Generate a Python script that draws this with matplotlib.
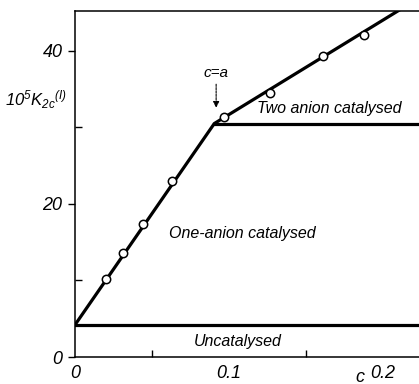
import numpy as np
import matplotlib
matplotlib.use("Agg")
import matplotlib.pyplot as plt
from matplotlib.ticker import FixedLocator

# measured points
c_obs = [0.020, 0.031, 0.044, 0.063, 0.097, 0.127, 0.161, 0.188]
k_obs = [10.2, 13.6, 17.4, 23.0, 31.3, 34.5, 39.3, 42.1]

# fitted lines (vertices)
fit_c = [0.0, 0.0905, 0.2235]
fit_k = [4.2, 30.5, 46.9]
two_c = [0.0905, 0.2235]
two_k = [30.5, 30.5]
unc_c = [0.0, 0.2235]
unc_k = [4.2, 4.2]

fnt = ['Liberation Sans', 'DejaVu Sans']
plt.rcParams['font.family'] = fnt
plt.rcParams['font.style'] = 'italic'
plt.rcParams['mathtext.fontset'] = 'custom'
plt.rcParams['mathtext.it'] = 'Liberation Sans:italic'
plt.rcParams['mathtext.rm'] = 'Liberation Sans:italic'
plt.rcParams['mathtext.default'] = 'it'

fig = plt.figure(figsize=(4.19, 3.84), dpi=100)
ax = fig.add_axes([0.179, 0.0703, 0.821, 0.901])

ax.plot(fit_c, fit_k, color='black', lw=2.3, solid_capstyle='butt', zorder=3)
ax.plot(two_c, two_k, color='black', lw=2.3, zorder=3)
ax.plot(unc_c, unc_k, color='black', lw=2.3, zorder=3)
ax.plot(c_obs, k_obs, 'o', ms=6, mfc='white', mec='black', mew=1.1, zorder=4)

ax.set_xlim(0, 0.2235)
ax.set_ylim(0, 45.2)

ax.spines['right'].set_visible(False)
for s in ['left', 'bottom', 'top']:
    ax.spines[s].set_linewidth(1.1)

ax.xaxis.set_major_locator(FixedLocator([0, 0.1, 0.2]))
ax.xaxis.set_minor_locator(FixedLocator([0.05, 0.15]))
ax.set_xticklabels(['0', '0.1', '0.2'])
ax.yaxis.set_major_locator(FixedLocator([0, 20, 40]))
ax.yaxis.set_minor_locator(FixedLocator([10, 30]))
ax.set_yticklabels(['0', '20', '40'])
ax.tick_params(axis='x', which='both', direction='in', width=1, labelsize=13, pad=6)
ax.tick_params(axis='x', which='major', length=0)
ax.tick_params(axis='x', which='minor', length=5)
ax.tick_params(axis='y', which='major', direction='out', length=5, width=1, labelsize=13, pad=4)
ax.tick_params(axis='y', which='minor', direction='in', length=5, width=1)

ax.text(0.0917, 37.1, 'c=a', ha='center', va='center', fontsize=11)
ax.annotate('', xy=(0.0917, 32.2), xytext=(0.0917, 36.0),
            arrowprops=dict(arrowstyle='-|>', color='black', lw=0.8, ls=(0, (2, 1)),
                            mutation_scale=9))
ax.text(0.118, 32.4, 'Two anion catalysed', ha='left', va='center', fontsize=11.5)
ax.text(0.061, 16.2, 'One-anion catalysed', ha='left', va='center', fontsize=11.5)
ax.text(0.077, 2.0, 'Uncatalysed', ha='left', va='center', fontsize=11.5)

fig.text(36 / 419, 1 - 100 / 384, r'$10^5K_{2c}{}^{(I)}$', ha='center', va='center', fontsize=12)
fig.text(360 / 419, 1 - 377 / 384, 'c', ha='center', va='center', fontsize=13)

fig.savefig('out.png', dpi=100)
